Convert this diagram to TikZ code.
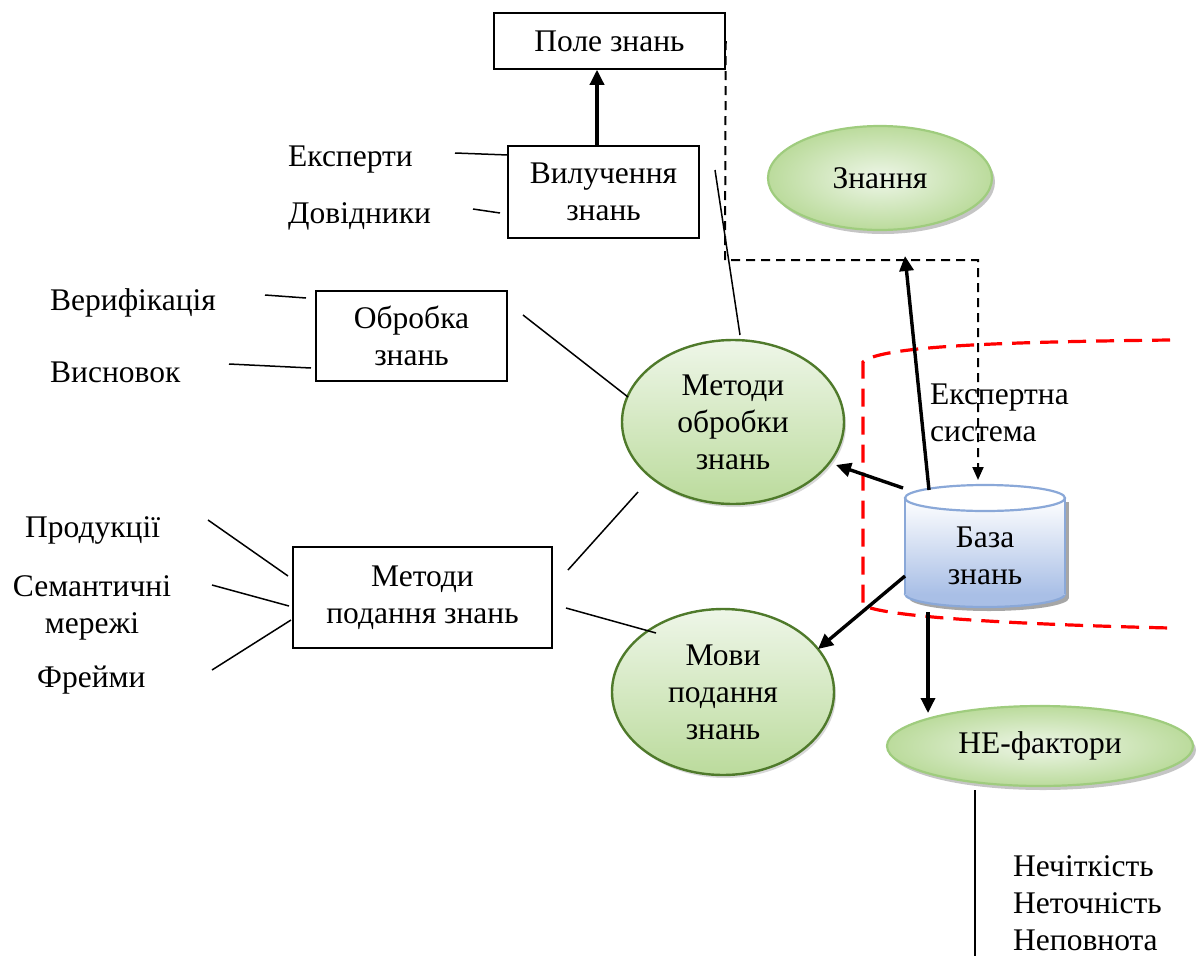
\documentclass[tikz,border=0pt]{standalone}
\usepackage{fontspec}
\setmainfont{Liberation Serif}
\usetikzlibrary{arrows.meta,shadows,shapes.geometric}
\definecolor{ellT}{HTML}{EEF6E8}
\definecolor{ellB}{HTML}{BBDB9C}
\definecolor{ellD}{HTML}{4F7A2B}
\definecolor{ellL}{HTML}{9FCC7E}
\definecolor{cylB}{HTML}{A9BFE6}
\definecolor{cylE}{HTML}{8AA8D8}
\begin{document}
\begin{tikzpicture}[x=1pt,y=-1pt,
  every node/.style={font=\fontsize{31.5}{37}\selectfont},
  box/.style={draw, line width=1.5pt, align=center, inner sep=0pt},
  lbl/.style={inner sep=0pt, anchor=west, align=left},
  ellA/.style={ellipse, draw=ellD, line width=2.4pt, top color=ellT, bottom color=ellB,
    align=center, inner sep=0pt, drop shadow={shadow xshift=2pt, shadow yshift=-3pt, fill=black!30}},
  ellC/.style={ellipse, draw=ellL, line width=2.2pt, inner color=ellT, outer color=ellB,
    align=center, inner sep=0pt, drop shadow={shadow xshift=3pt, shadow yshift=-4pt, fill=black!45}},
  thin/.style={line width=1.5pt},
  arr/.style={line width=3.4pt, -{Triangle[length=15pt,width=14pt]}},
  dsh/.style={line width=2pt, dash pattern=on 9pt off 6pt},
  reddash/.style={draw=red, line width=3.2pt, dash pattern=on 18pt off 10pt},
  cyl/.style={draw=cylE, line width=2.2pt}
]
\useasboundingbox (0,0) rectangle (1197,956);

% boxes
\node[box, minimum width=231pt, minimum height=56pt] (pole) at (609.5,41) {Поле знань};
\node[box, minimum width=191pt, minimum height=92pt] (vyl) at (603.5,192) {Вилучення\\знань};
\node[box, minimum width=191pt, minimum height=90pt] (obr) at (411.5,336) {Обробка\\знань};
\node[box, minimum width=259pt, minimum height=101pt] (mpod) at (422.5,597.5) {Методи\\подання знань};

% ellipses
\node[ellC, minimum width=224pt, minimum height=104pt] (zn) at (880,178) {Знання};
\node[ellA, minimum width=222pt, minimum height=164pt] (mo) at (733,422) {Методи\\обробки\\знань};
\node[ellA, minimum width=222pt, minimum height=166pt] (mov) at (723,692) {Мови\\подання\\знань};
\node[ellC, minimum width=306pt, minimum height=80pt] (ne) at (1040,746) {НЕ-фактори};

% cylinder
\fill[black!35] (909,502) rectangle (1069,598);
\fill[black!35] (989,598) ellipse [x radius=80, y radius=13];
\fill[cylB] (985,594) ellipse [x radius=80, y radius=13];
\draw[cyl] (985,594) ellipse [x radius=80, y radius=13];
\shade[top color=white, bottom color=cylB] (905,498) rectangle (1065,594);
\draw[cyl] (905,498) -- (905,594) (1065,498) -- (1065,594);
\filldraw[cyl, fill=white] (985,498) ellipse [x radius=80, y radius=13];
\node[align=center, inner sep=0pt] (db) at (985,556) {База\\знань};

% red boundary
\draw[reddash] (1170,340) .. controls (1000,342) and (880,346) .. (863,362) -- (863,605)
  .. controls (880,616) and (1000,624) .. (1170,628);
\node[lbl] (es) at (930,413) {Експертна\\система};

% labels
\node[lbl] (eksp) at (288,160) {Експерти};
\node[lbl] (dov) at (288,216) {Довідники};
\node[lbl] (ver) at (50,303) {Верифікація};
\node[lbl] (vys) at (50,372) {Висновок};
\node[lbl] (prod) at (25,530) {Продукції};
\node[inner sep=0pt, align=center] (sem) at (92,608) {Семантичні\\мережі};
\node[lbl] (frm) at (37,680) {Фрейми};
\node[lbl] (nech) at (1013,903) {Нечіткість\\Неточність\\Неповнота};

% coordinates for free ends
\coordinate (c1a) at (455,153); \coordinate (c1b) at (508,155);
\coordinate (c2a) at (473,209); \coordinate (c2b) at (500,213);
\coordinate (c3a) at (265,295); \coordinate (c3b) at (306,298);
\coordinate (c4a) at (229,364); \coordinate (c4b) at (311,368);
\coordinate (c5a) at (523,315); \coordinate (c5b) at (628,397);
\coordinate (c6a) at (715,170); \coordinate (c6b) at (740,335);
\coordinate (c7a) at (208,520); \coordinate (c7b) at (288,576);
\coordinate (c8a) at (212,585); \coordinate (c8b) at (289,606);
\coordinate (c9a) at (212,670); \coordinate (c9b) at (291,620);
\coordinate (c10a) at (568,570); \coordinate (c10b) at (638,492);
\coordinate (c11a) at (566,608); \coordinate (c11b) at (656,633);
\coordinate (c12a) at (975,790); \coordinate (c12b) at (975,956);
\coordinate (pa) at (597,0);
\coordinate (dbT) at (978,480);
\coordinate (dbA) at (929,490); \coordinate (znA) at (905,256);
\coordinate (dbB) at (903,488); \coordinate (moB) at (836,465);
\coordinate (dbC) at (905,576); \coordinate (movC) at (818,649);
\coordinate (dbD) at (928,612); \coordinate (neD) at (928,713);

% thin connectors
\foreach \i in {1,...,12} { \draw[thin] (c\i a) -- (c\i b); }

% arrows
\draw[arr] (vyl.north -| pa) -- (pole.south -| pa);
\draw[arr] (dbA) -- (znA);
\draw[arr] (dbB) -- (moB);
\draw[arr] (dbC) -- (movC);
\draw[arr] (dbD) -- (neD);

% dashed link
\draw[dsh, -{Triangle[length=13pt,width=11pt]}] (pole.east) -- (725,260) -| (dbT);
\end{tikzpicture}
\end{document}
